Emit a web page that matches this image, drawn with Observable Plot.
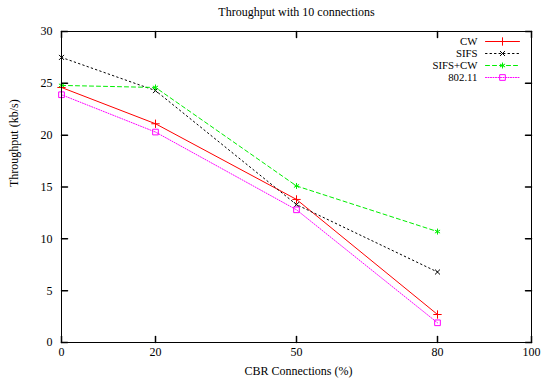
<!DOCTYPE html>
<html><head><meta charset="utf-8">
<script src="https://cdn.jsdelivr.net/npm/d3@7"></script>
<script src="https://cdn.jsdelivr.net/npm/@observablehq/plot@0.6"></script>
<style>body{margin:0;background:#fff} svg, svg text{font-family:"Liberation Serif", "Times New Roman", serif !important;}</style>
</head><body><div id="chart"></div>
<script>
const connections = [0, 20, 50, 80];
const seriesNames = ["CW", "SIFS", "SIFS+CW", "802.11"];
const cw = [24.6, 21.1, 13.8, 2.7];
const sifs = [27.5, 24.3, 13.3, 6.8];
const sifsCw = [24.8, 24.6, 15.1, 10.7];
const ieee80211 = [23.9, 20.3, 12.8, 1.9];
const xTicks = [0, 20, 50, 80, 100];
const yTicks = [0, 5, 10, 15, 20, 25, 30];
const titleText = "Throughput with 10 connections";
const xLabel = "CBR Connections (%)";
const yLabel = "Throughput (kb/s)";

const seriesValues = [cw, sifs, sifsCw, ieee80211];
const colors = ["#ff0000", "#000000", "#00ee00", "#ff00ff"];
const dashes = ["none", "1.5,3", "4,3", "1,1.5"];
const symbols = ["plus", "times", "asterisk", "square"];
const sizes = [2.8, 2.4, 2.8, 3.2];
const FONT = "Liberation Serif";

const data = seriesNames.flatMap((s, k) => connections.map((c, i) => ({series: s, k, x: c, y: seriesValues[k][i]})));

const lineShape = {draw(context, l) { context.moveTo(0, 0); context.lineTo(0, -l); }};

const marks = [];
// inward ticks (gnuplot style), all four sides
marks.push(Plot.vector(yTicks, {y: d => d, frameAnchor: "left", rotate: 90, length: 6, anchor: "start", shape: lineShape, stroke: "black"}));
marks.push(Plot.vector(yTicks, {y: d => d, frameAnchor: "right", rotate: -90, length: 6, anchor: "start", shape: lineShape, stroke: "black"}));
marks.push(Plot.vector(xTicks, {x: d => d, frameAnchor: "bottom", rotate: 0, length: 6, anchor: "start", shape: lineShape, stroke: "black"}));
marks.push(Plot.vector(xTicks, {x: d => d, frameAnchor: "top", rotate: 180, length: 6, anchor: "start", shape: lineShape, stroke: "black"}));
marks.push(Plot.axisY({ticks: yTicks, tickSize: 0, tickPadding: 9, label: null, fontSize: 12, fontFamily: FONT}));
marks.push(Plot.axisX({ticks: xTicks, tickSize: 0, tickPadding: 5, label: null, fontSize: 12, fontFamily: FONT}));

seriesNames.forEach((s, k) => {
  const d = data.filter(e => e.k === k);
  marks.push(Plot.line(d, {x: "x", y: "y", stroke: colors[k], strokeWidth: 1, strokeDasharray: dashes[k]}));
  marks.push(Plot.dot(d, {x: "x", y: "y", symbol: () => symbols[k], stroke: colors[k], fill: "none", r: sizes[k], strokeWidth: 1}));
  // legend
  const dy = 10 + 12 * k;
  marks.push(Plot.text([s], {text: d => d, frameAnchor: "top-right", dx: -54, dy, textAnchor: "end", lineAnchor: "middle", fontSize: 10.8, fontFamily: FONT, fill: "black"}));
  marks.push(Plot.vector([s], {frameAnchor: "top-right", dx: -46, dy, rotate: 90, length: 34, anchor: "start", shape: lineShape, stroke: colors[k], strokeWidth: 1, strokeDasharray: dashes[k]}));
  marks.push(Plot.dot([s], {frameAnchor: "top-right", dx: -29, dy, symbol: () => symbols[k], stroke: colors[k], fill: "none", r: sizes[k], strokeWidth: 1}));
});

marks.push(Plot.frame({stroke: "black", strokeWidth: 1}));
marks.push(Plot.text([titleText], {text: d => d, frameAnchor: "top", dy: -19, lineAnchor: "middle", fontSize: 12, fontFamily: FONT}));
marks.push(Plot.text([xLabel], {text: d => d, frameAnchor: "bottom", dx: 2, dy: 29, lineAnchor: "middle", fontSize: 12, fontFamily: FONT}));
marks.push(Plot.text([yLabel], {text: d => d, frameAnchor: "left", dx: -47, rotate: -90, lineAnchor: "middle", fontSize: 12, fontFamily: FONT}));

const chart = Plot.plot({
  width: 544, height: 382,
  marginLeft: 61, marginRight: 13, marginTop: 31, marginBottom: 40,
  x: {domain: [0, 100]},
  y: {domain: [0, 30]},
  style: {fontFamily: FONT, fontSize: "12px", background: "#fff", color: "black"},
  marks
});
document.getElementById("chart").append(chart);
</script>
</body></html>
